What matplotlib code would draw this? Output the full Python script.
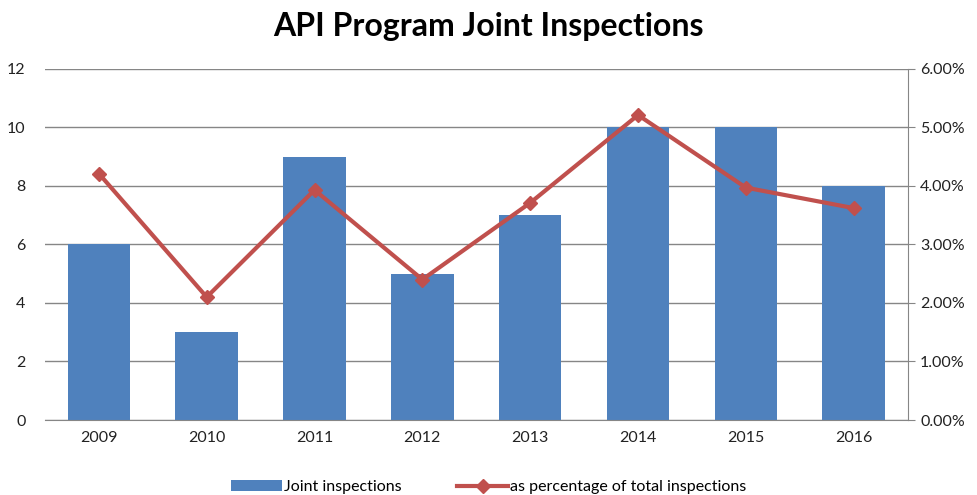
import matplotlib.pyplot as plt
from matplotlib.ticker import FuncFormatter

plt.rcParams['font.family'] = ['Lato', 'DejaVu Sans']

years = ['2009', '2010', '2011', '2012', '2013', '2014', '2015', '2016']
joint_inspections = [6, 3, 9, 5, 7, 10, 10, 8]
pct_of_total = [4.21, 2.10, 3.93, 2.40, 3.71, 5.21, 3.97, 3.62]

bar_color = '#4F81BD'
line_color = '#C0504D'
grid_color = '#868686'

fig = plt.figure(figsize=(9.77, 4.95), dpi=100)
ax = fig.add_axes([0.046, 0.1515, 0.883, 0.7095])
x = list(range(len(years)))

ax.bar(x, joint_inspections, width=0.58, color=bar_color, zorder=2,
       label='Joint inspections')
ax.set_xlim(-0.5, len(years) - 0.5)
ax.set_ylim(0, 12)
ax.set_yticks(range(0, 13, 2))
ax.set_xticks(x)
ax.set_xticklabels(years)
ax.yaxis.grid(True, color=grid_color, linewidth=1, zorder=0)
ax.set_axisbelow(True)
for s in ['top', 'left', 'right']:
    ax.spines[s].set_visible(False)
ax.spines['bottom'].set_color(grid_color)
ax.tick_params(axis='both', length=0, labelsize=11.5, colors='#222222')
ax.tick_params(axis='y', pad=14)
ax.tick_params(axis='x', pad=8)

ax2 = ax.twinx()
ax2.plot(x, pct_of_total, color=line_color, linewidth=3, marker='D',
         markersize=7.5, zorder=3, label='as percentage of total inspections')
ax2.set_ylim(0, 6)
ax2.set_yticks(range(0, 7))
ax2.yaxis.set_major_formatter(FuncFormatter(lambda v, p: f'{v:.2f}%'))
for s in ['top', 'left', 'bottom']:
    ax2.spines[s].set_visible(False)
ax2.spines['right'].set_color(grid_color)
ax2.tick_params(axis='y', length=5, direction='out', color=grid_color,
                labelsize=11.5, labelcolor='#222222', pad=4)

fig.suptitle('API Program Joint Inspections', fontsize=23, fontweight='bold',
             x=0.5, y=0.975)

h1, l1 = ax.get_legend_handles_labels()
h2, l2 = ax2.get_legend_handles_labels()
fig.legend(h1 + h2, l1 + l2, loc='lower center', ncol=2, frameon=False,
           fontsize=11.5, bbox_to_anchor=(0.5, -0.028), handlelength=3.2,
           handletextpad=0.1, columnspacing=3.5)

fig.savefig('out.png', dpi=100)
